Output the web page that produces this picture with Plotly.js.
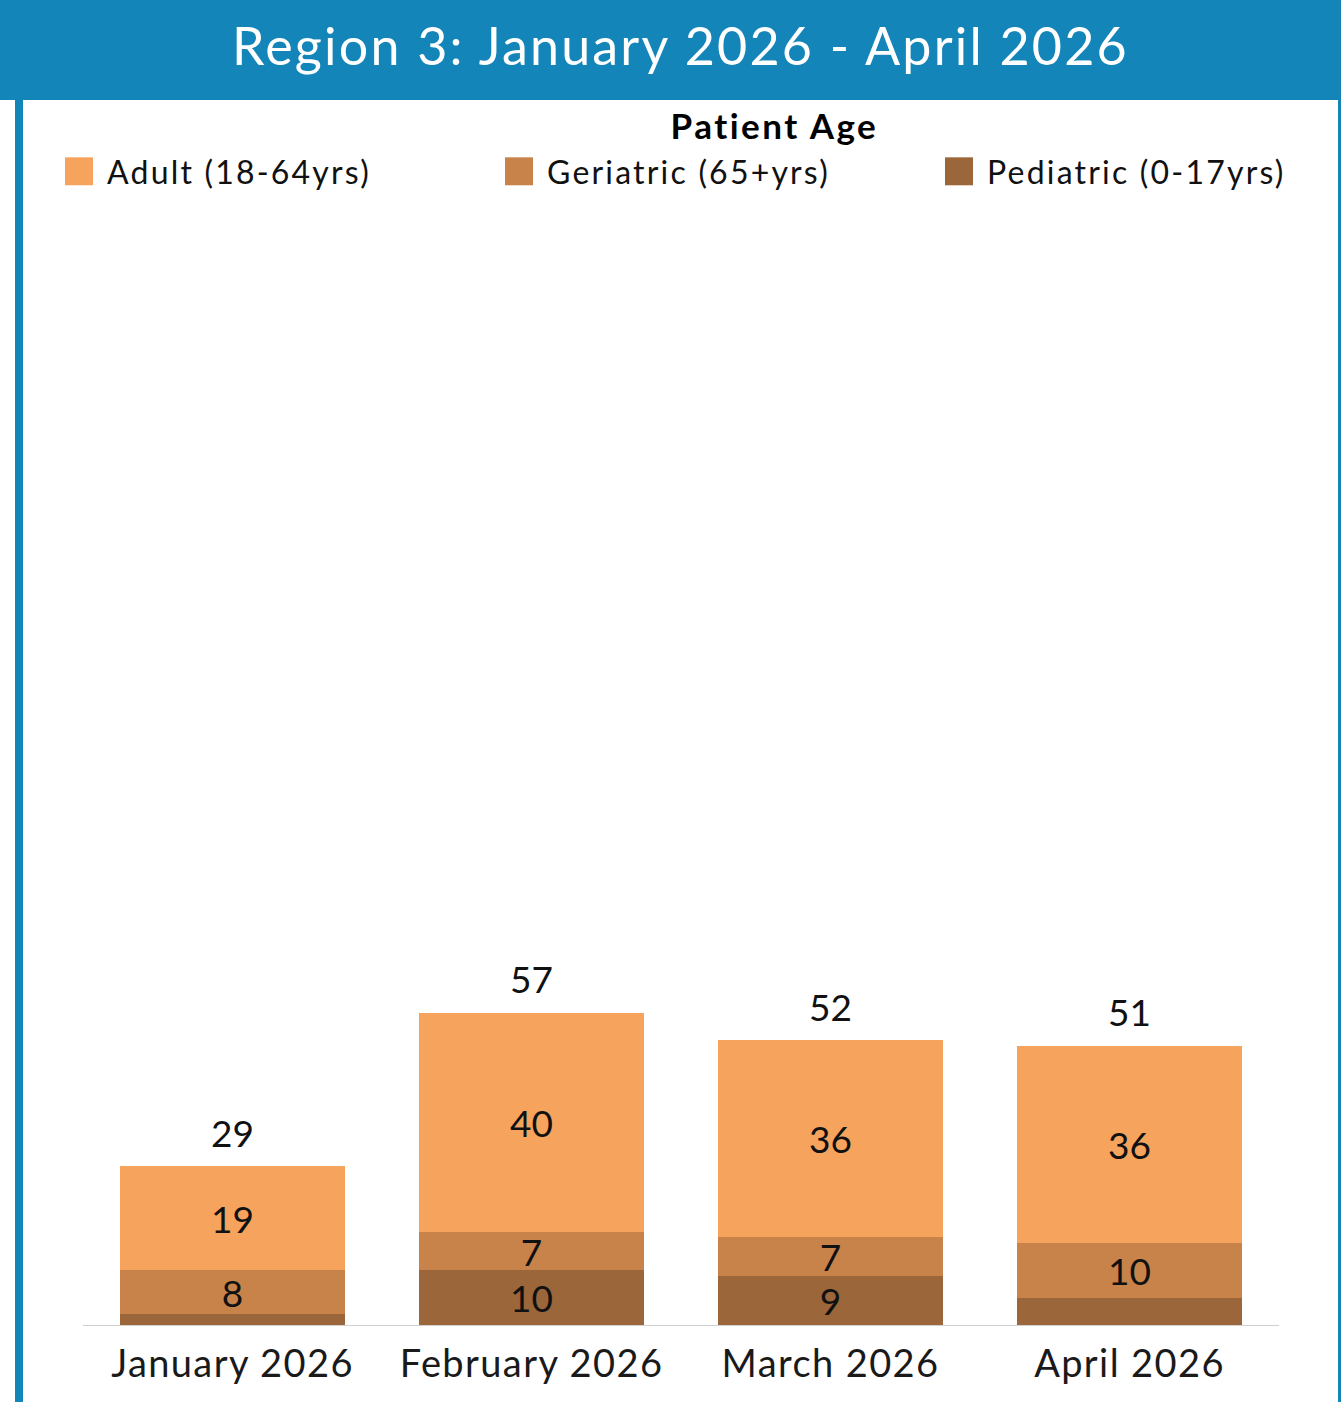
<!DOCTYPE html>
<html>
<head>
<meta charset="utf-8">
<script src="https://cdn.plot.ly/plotly-3.0.1.min.js"></script>
<style>
  html, body { margin: 0; padding: 0; background: #ffffff; }
  #chart { width: 1341px; height: 1402px; }
  .legend .legendpoints path { transform: translate(28px, 0px) scale(2.33); }
  .legendtext { letter-spacing: 2.2px; }
  .gtitle { letter-spacing: 2.2px; }
  .xtick text { letter-spacing: 1.4px; }
  .annotation[data-index="4"] text { letter-spacing: 2.5px; }
</style>
</head>
<body>
<div id="chart"></div>
<script>
// ---- data ----
const months = ["January 2026", "February 2026", "March 2026", "April 2026"];
const pediatric = [2, 10, 9, 5];
const geriatric = [8, 7, 7, 10];
const adult = [19, 40, 36, 36];
const seriesNames = ["Adult (18-64yrs)", "Geriatric (65+yrs)", "Pediatric (0-17yrs)"];
const chartTitle = "Region 3: January 2026 - April 2026";
const legendTitle = "Patient Age";

// ---- layout constants ----
const W = 1341, H = 1402;
const M = { l: 83, r: 62, t: 215, b: 77 };
const plotW = W - M.l - M.r, plotH = H - M.t - M.b;
const yMax = 202.6;
const FONT = "Lato, 'Open Sans', sans-serif";
const colors = { adult: "#F6A35D", geriatric: "#C8834A", pediatric: "#9B673A", blue: "#1485B9" };
const minLabel = 6;

const px2x = p => (p - M.l) / plotW;
const px2y = p => (H - M.b - p) / plotH;

const labelText = arr => arr.map(v => (v >= minLabel ? String(v) : ""));

function barTrace(name, vals, color, legendW) {
  const t = {
    type: "bar", name: name, x: months, y: vals,
    marker: { color: color, line: { width: 0 } },
    text: labelText(vals), textposition: "inside", insidetextanchor: "middle",
    constraintext: "none", textangle: 0,
    textfont: { family: FONT, size: 37, color: "#111111" },
    hoverinfo: "x+y+name"
  };
  if (legendW) t.legendwidth = legendW;
  return t;
}

const traces = [
  barTrace(seriesNames[2], pediatric, colors.pediatric, 300),
  barTrace(seriesNames[1], geriatric, colors.geriatric),
  barTrace(seriesNames[0], adult, colors.adult)
];

const totals = months.map((m, i) => pediatric[i] + geriatric[i] + adult[i]);

const annotations = totals.map((t, i) => ({
  x: months[i], y: t, xref: "x", yref: "y", text: String(t), showarrow: false,
  yanchor: "middle", yshift: 34, font: { family: FONT, size: 37, color: "#111111" }
}));
annotations.push({
  xref: "paper", yref: "paper", x: px2x(775), y: px2y(125), text: "<b>" + legendTitle + "</b>",
  showarrow: false, xanchor: "center", yanchor: "middle",
  font: { family: FONT, size: 35, color: "#000000" }
});

const shapes = [
  { type: "rect", xref: "paper", yref: "paper", x0: px2x(0), x1: px2x(W), y0: px2y(100), y1: px2y(0),
    fillcolor: colors.blue, line: { width: 0 }, layer: "below" },
  { type: "rect", xref: "paper", yref: "paper", x0: px2x(15), x1: px2x(23), y0: px2y(H), y1: px2y(100),
    fillcolor: colors.blue, line: { width: 0 }, layer: "below" },
  { type: "rect", xref: "paper", yref: "paper", x0: px2x(1338), x1: px2x(W), y0: px2y(H), y1: px2y(100),
    fillcolor: colors.blue, line: { width: 0 }, layer: "below" }
];

const layout = {
  width: W, height: H,
  margin: M,
  paper_bgcolor: "#ffffff", plot_bgcolor: "#ffffff",
  barmode: "stack", bargap: 0.25,
  font: { family: FONT, color: "#111111" },
  title: {
    text: chartTitle, xref: "container", yref: "container",
    x: 680.5 / W, y: 1 - 47 / H, xanchor: "center", yanchor: "middle",
    font: { family: FONT, size: 52, color: "#ffffff" }
  },
  xaxis: {
    showline: true, linecolor: "#d0d0d0", linewidth: 1, showgrid: false, zeroline: false,
    ticks: "", ticklabelstandoff: 5,
    tickfont: { family: FONT, size: 38, color: "#1a1a1a" }, fixedrange: true
  },
  yaxis: { visible: false, range: [0, yMax], showgrid: false, zeroline: false, fixedrange: true },
  showlegend: true,
  legend: {
    orientation: "h", traceorder: "reversed",
    x: px2x(51), xanchor: "left", y: px2y(144), yanchor: "top",
    font: { family: FONT, size: 32, color: "#111111" },
    itemwidth: 46, entrywidth: 379, entrywidthmode: "pixels",
    bgcolor: "rgba(0,0,0,0)", borderwidth: 0,
    itemclick: false, itemdoubleclick: false
  },
  shapes: shapes,
  annotations: annotations
};

Plotly.newPlot("chart", traces, layout, { displayModeBar: false, staticPlot: true });
</script>
</body>
</html>
